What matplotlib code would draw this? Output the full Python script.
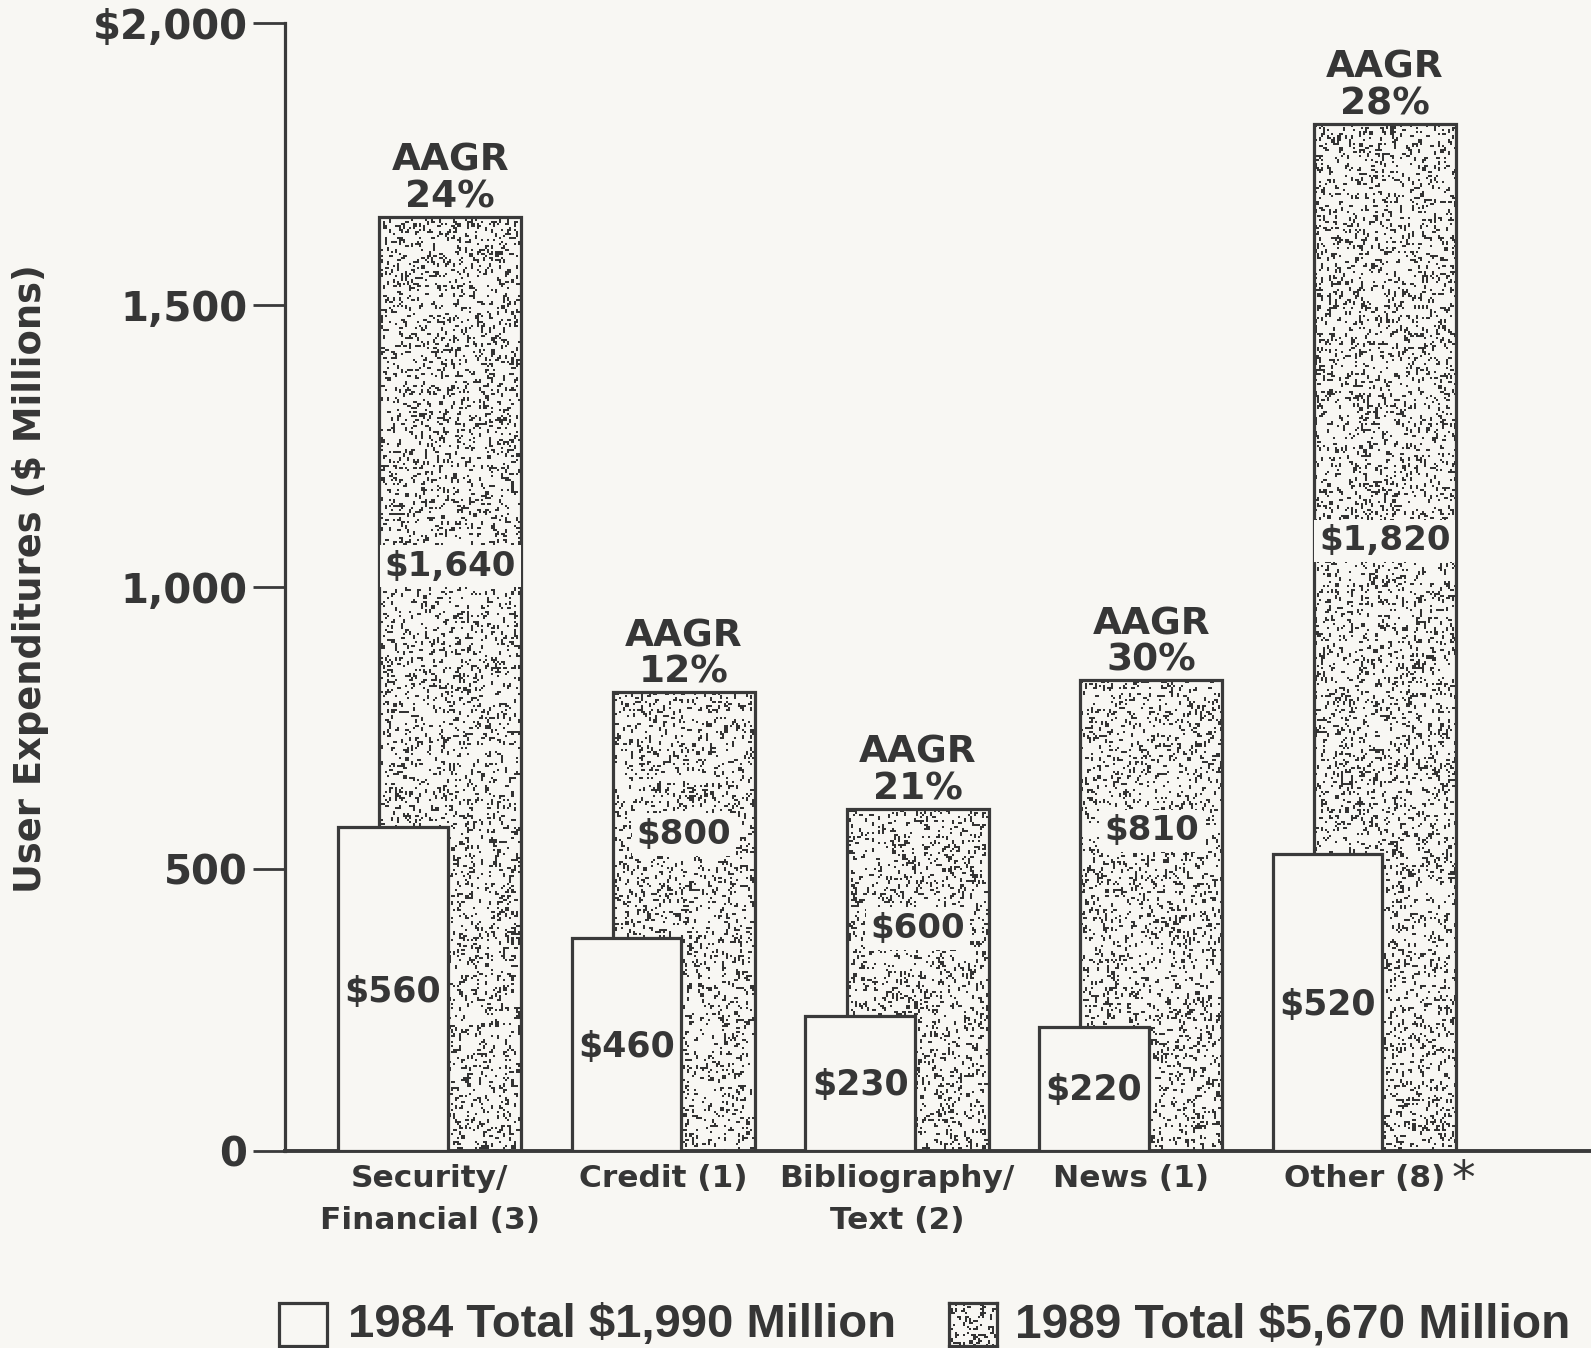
import numpy as np
import matplotlib
matplotlib.use("Agg")
import matplotlib.pyplot as plt
from matplotlib.patches import Rectangle

# ---------------- data ----------------
categories = ["Security/\nFinancial (3)", "Credit (1)", "Bibliography/\nText (2)", "News (1)", "Other (8)"]
heights_1984 = [575, 378, 239, 220, 527]        # drawn bar heights
heights_1989 = [1657, 814, 607, 835, 1822]      # drawn bar heights
labels_1984 = ["$560", "$460", "$230", "$220", "$520"]
labels_1989 = ["$1,640", "$800", "$600", "$810", "$1,820"]
aagr = ["24%", "12%", "21%", "30%", "28%"]
yticks = [0, 500, 1000, 1500, 2000]
yticklabels = ["0", "500", "1,000", "1,500", "$2,000"]
legend_labels = ["1984 Total $1,990 Million", "1989 Total $5,670 Million"]
ylabel = "User Expenditures ($ Millions)"

# ---------------- style ----------------
BG = "#f8f7f3"
INK = "#363636"
EDGE = "#3a3a3a"
FONT = "DejaVu Sans"

W1989 = 0.608
W1984 = 0.47
OFF1984 = -0.246
lbl89_frac = [0.626, 0.69, 0.65, 0.68, 0.594]
lbl84_frac = 0.49

fig = plt.figure(figsize=(15.91, 13.48), dpi=100, facecolor=BG)
ax = fig.add_axes([0.1791, 0.1461, 0.8209, 0.8366], facecolor=BG)

x = np.arange(len(categories))
XLIM = (-0.708, 4.882)
YLIM = (0, 2000)

# stipple texture (decorative only)
rng = np.random.default_rng(11)
def speckle(ny, nx, p=0.12):
    r = rng.random((ny, nx))
    m = r < p
    r2 = rng.random((ny, nx))
    m = m | np.roll(m & (r2 < 0.35), 1, axis=0) | np.roll(m & (r2 > 0.8), 1, axis=1)
    img = np.empty((ny, nx, 4))
    bg = np.array(matplotlib.colors.to_rgba(BG))
    dk = np.array(matplotlib.colors.to_rgba("#333333"))
    img[:] = bg
    img[m] = dk
    return img

tex = speckle(564, 653)

bars89 = ax.bar(x, heights_1989, width=W1989, facecolor="none", edgecolor=EDGE,
                linewidth=2.3, zorder=3)
for b in bars89:
    im = ax.imshow(tex, extent=(XLIM[0], XLIM[1], YLIM[0], YLIM[1]), aspect="auto",
                   interpolation="nearest", zorder=2, origin="lower")
    im.set_clip_path(b)

bars84 = ax.bar(x + OFF1984, heights_1984, width=W1984, facecolor=BG, edgecolor=EDGE,
                linewidth=2.3, zorder=4)

# value labels
for i in range(len(categories)):
    ax.text(x[i], heights_1989[i] * lbl89_frac[i], labels_1989[i], ha="center", va="center",
            fontsize=24.5, fontweight="bold", family=FONT, color=INK, zorder=6,
            bbox=dict(boxstyle="square,pad=0.14", fc=BG, ec="none"))
    ax.text(x[i] + OFF1984, heights_1984[i] * lbl84_frac, labels_1984[i], ha="center", va="center",
            fontsize=25, fontweight="bold", family=FONT, color=INK, zorder=6)
    ax.annotate("AAGR\n" + aagr[i], xy=(x[i], heights_1989[i]), xytext=(0, 1),
                textcoords="offset points", ha="center", va="bottom", fontsize=27,
                fontweight="bold", family=FONT, color=INK, linespacing=1.02, zorder=6)

ax.set_xlim(*XLIM)
ax.set_ylim(*YLIM)

for s in ["top", "right"]:
    ax.spines[s].set_visible(False)
ax.spines["left"].set_linewidth(2.3)
ax.spines["bottom"].set_linewidth(2.8)
ax.spines["left"].set_color(EDGE)
ax.spines["bottom"].set_color(EDGE)

ax.set_yticks(yticks)
ax.set_yticklabels(yticklabels, fontsize=29, fontweight="bold", family=FONT, color=INK)
ax.tick_params(axis="y", length=23, width=2, color=EDGE, pad=4)

group_center = x + (OFF1984 - W1984 / 2 + W1989 / 2) / 2
ax.set_xticks(group_center)
ax.set_xticklabels(categories, fontsize=22.5, fontweight="bold", family=FONT, color=INK,
                   linespacing=1.6)
ax.tick_params(axis="x", length=0, pad=9)

tl = ax.get_xticklabels()[-1]
ax.annotate("*", xy=(1.0, 1.0), xycoords=tl, xytext=(5, 4), textcoords="offset points",
            ha="left", va="top", fontsize=34, family=FONT, color=INK)

fig.text(0.0189, 0.571, ylabel, rotation=90, ha="center", va="center", fontsize=26.6,
         fontweight="bold", family=FONT, color=INK)

# legend
fig.add_artist(Rectangle((0.1754, 0.0015), 0.0302, 0.0319, transform=fig.transFigure,
                         facecolor=BG, edgecolor=EDGE, linewidth=2.3))
fig.text(0.2187, 0.0171, legend_labels[0], ha="left", va="center", fontsize=34,
         fontweight="bold", family="Liberation Sans", color=INK)
lax = fig.add_axes([0.5965, 0.0015, 0.0302, 0.0319])
lax.imshow(tex[:22, :24], aspect="auto", interpolation="nearest")
lax.set_xticks([]); lax.set_yticks([])
for s in lax.spines.values():
    s.set_linewidth(2.3); s.set_color(EDGE)
fig.text(0.638, 0.0171, legend_labels[1], ha="left", va="center", fontsize=34.5,
         fontweight="bold", family="Liberation Sans", color=INK)

fig.savefig("out.png", dpi=100, facecolor=BG)
